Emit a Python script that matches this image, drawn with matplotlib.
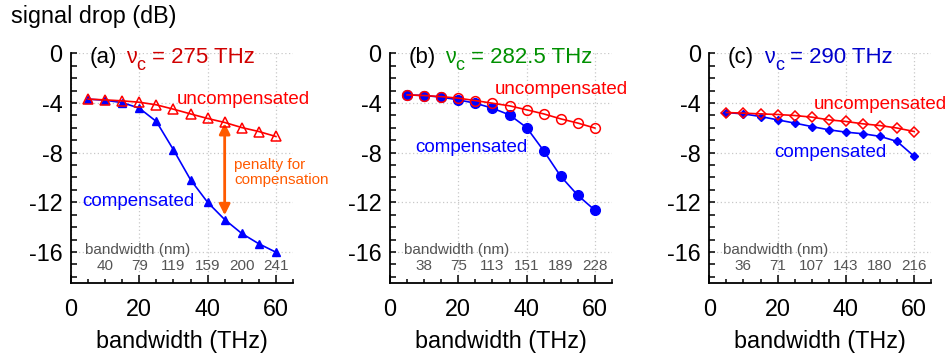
import matplotlib
matplotlib.use("Agg")
import matplotlib.pyplot as plt
from matplotlib.ticker import MultipleLocator

plt.rcParams["font.family"] = ["Liberation Sans", "DejaVu Sans"]
plt.rcParams["axes.unicode_minus"] = False

# bandwidth sweep (THz), shared by all three panels
bandwidth_thz = [5, 10, 15, 20, 25, 30, 35, 40, 45, 50, 55, 60]

# (a) centre frequency 275 THz
uncomp_275 = [-3.69, -3.75, -3.83, -3.94, -4.15, -4.50, -4.88, -5.25, -5.57, -5.98, -6.30, -6.70]
comp_275 = [-3.69, -3.78, -3.97, -4.42, -5.49, -7.77, -10.18, -12.00, -13.39, -14.51, -15.34, -16.02]
nm_275 = ["40", "79", "119", "159", "200", "241"]

# (b) centre frequency 282.5 THz
uncomp_2825 = [-3.35, -3.40, -3.49, -3.61, -3.81, -4.02, -4.23, -4.55, -4.88, -5.28, -5.62, -6.02]
comp_2825 = [-3.35, -3.40, -3.53, -3.75, -4.02, -4.42, -4.96, -5.98, -7.85, -9.91, -11.44, -12.64]
nm_2825 = ["38", "75", "113", "151", "189", "228"]

# (c) centre frequency 290 THz
uncomp_290 = [-4.77, -4.82, -4.88, -4.93, -5.01, -5.14, -5.36, -5.49, -5.68, -5.82, -6.02, -6.30]
comp_290 = [-4.77, -4.88, -5.09, -5.36, -5.62, -5.90, -6.16, -6.35, -6.48, -6.69, -7.10, -8.30]
nm_290 = ["36", "71", "107", "143", "180", "216"]

nm_positions = [10, 20, 30, 40, 50, 60]

panels = [
    dict(tag="(a)", freq="275", fcolor="#d00000", marker="^", uncomp=uncomp_275, comp=comp_275,
         nm=nm_275, ms_open=6.5, ms_fill=5.5, uc_xy=(30.9, -3.7), c_xy=(3.2, -11.95)),
    dict(tag="(b)", freq="282.5", fcolor="#009000", marker="o", uncomp=uncomp_2825, comp=comp_2825,
         nm=nm_2825, ms_open=7, ms_fill=7, uc_xy=(30.7, -2.9), c_xy=(7.3, -7.6)),
    dict(tag="(c)", freq="290", fcolor="#0000cc", marker="D", uncomp=uncomp_290, comp=comp_290,
         nm=nm_290, ms_open=5, ms_fill=4.5, uc_xy=(30.7, -4.1), c_xy=(18.9, -8.0)),
]

red = "#ff0000"
blue = "#0000ff"
orange = "#ff5a00"
grey = "#555555"
big = 16.8

fig = plt.figure(figsize=(9.5, 3.58), dpi=100)
lefts = [0.0747, 0.4105, 0.7466]

for left, p in zip(lefts, panels):
    ax = fig.add_axes([left, 0.2095, 0.2337, 0.6416])
    ax.set_xlim(0, 65)
    ax.set_ylim(-18.5, 0)
    for side in ("top", "right"):
        ax.spines[side].set_visible(False)
    for side in ("left", "bottom"):
        ax.spines[side].set_linewidth(1.3)

    ax.xaxis.set_major_locator(MultipleLocator(20))
    ax.xaxis.set_minor_locator(MultipleLocator(5))
    ax.yaxis.set_major_locator(MultipleLocator(4))
    ax.yaxis.set_minor_locator(MultipleLocator(1))
    ax.tick_params(which="both", direction="in", width=1.1, labelsize=big, pad=6)
    ax.tick_params(axis="x", which="major", length=6, pad=11)
    ax.tick_params(axis="x", which="minor", length=3)
    ax.tick_params(axis="y", which="both", length=4)
    ax.grid(True, which="major", color="#c8c8c8", linestyle=(0, (1, 2)), linewidth=0.9)
    ax.set_axisbelow(True)

    ax.plot(bandwidth_thz, p["comp"], color=blue, lw=1.2, marker=p["marker"],
            ms=p["ms_fill"], mfc=blue, mec=blue, zorder=3)
    ax.plot(bandwidth_thz, p["uncomp"], color=red, lw=1.2, marker=p["marker"],
            ms=p["ms_open"], mfc="none", mec=red, mew=1.1, zorder=4)

    ax.text(*p["uc_xy"], "uncompensated", color=red, fontsize=13.5, va="center", ha="left")
    ax.text(*p["c_xy"], "compensated", color=blue, fontsize=13.5, va="center", ha="left")

    # panel tag, then nu with a large, deeply lowered subscript c
    ax.text(5.4, -0.8, p["tag"], fontsize=16, va="baseline", ha="left")
    ax.annotate("\u03bd", xy=(16, -0.8), color=p["fcolor"], fontsize=15.5,
                va="baseline", ha="left")
    ax.annotate("c", xy=(16, -0.8), xytext=(7.8, -4.8), textcoords="offset points",
                color=p["fcolor"], fontsize=13, va="baseline", ha="left")
    ax.annotate("= " + p["freq"] + " THz", xy=(16, -0.8), xytext=(18.8, 0),
                textcoords="offset points", color=p["fcolor"], fontsize=16,
                va="baseline", ha="left")

    # wavelength equivalents of the THz bandwidths
    ax.text(4.0, -15.85, "bandwidth (nm)", color=grey, fontsize=11, va="center", ha="left")
    for xpos, lab in zip(nm_positions, p["nm"]):
        ax.text(xpos, -17.1, lab, color=grey, fontsize=11, va="center", ha="center")

    ax.set_xlabel("bandwidth (THz)", fontsize=big, labelpad=6)

    if p["tag"] == "(a)":
        ax.annotate("", xy=(45, uncomp_275[8] - 0.05), xytext=(45, comp_275[8] + 0.35),
                    arrowprops=dict(arrowstyle="<|-|>", color=orange, lw=2,
                                    mutation_scale=16, shrinkA=0, shrinkB=0))
        ax.text(47.8, -9.6, "penalty for\ncompensation", color=orange, fontsize=11,
                va="center", ha="left", linespacing=1.1)

fig.text(0.012, 0.955, "signal drop (dB)", fontsize=big, va="center", ha="left")

fig.savefig("out.png", dpi=100)
